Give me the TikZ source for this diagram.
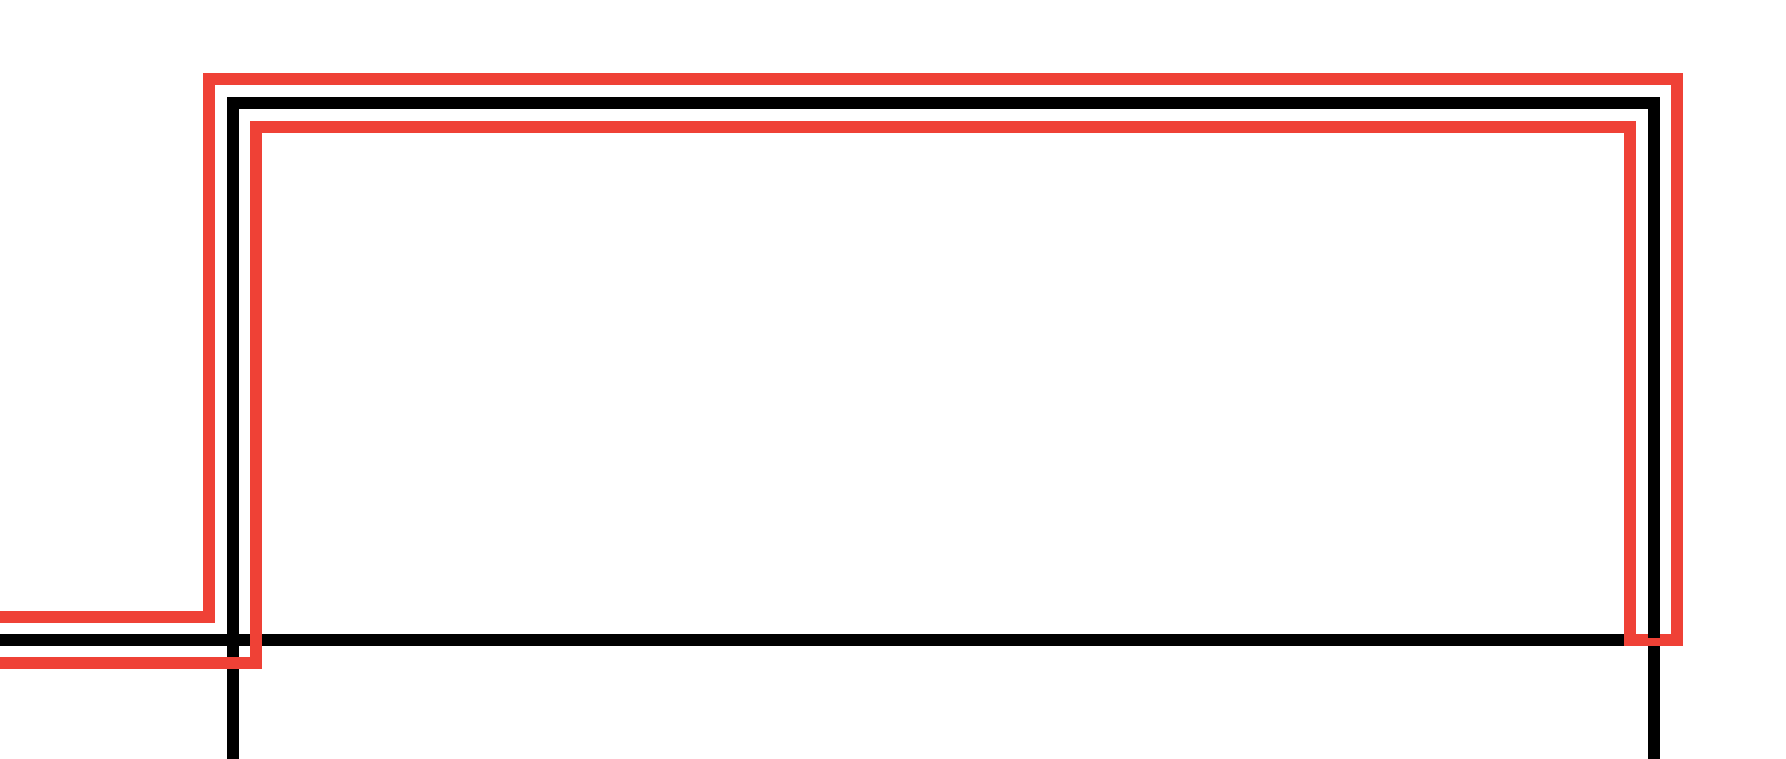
\documentclass[tikz,border=0pt]{standalone}
\definecolor{wirered}{RGB}{239,65,54}
\tikzset{
  blackwire/.style={draw=black,line width=0.12cm,line join=miter},
  redwire/.style={draw=wirered,line width=0.12cm,line join=miter}
}
\begin{document}
\begin{tikzpicture}[x=0.01cm,y=-0.01cm]
\useasboundingbox (0,0) rectangle (1786,758);
\clip (0,0) rectangle (1786,758);
% black wires
\draw[blackwire] (233,770) -- (233,103) -- (1654,103) -- (1654,770);
\draw[blackwire] (-10,640) -- (1624,640);
% red wire
\draw[redwire] (-10,616.5) -- (209,616.5) -- (209,79.5) -- (1676.7,79.5) -- (1676.7,639.5)
  -- (1630,639.5) -- (1630,126.7) -- (256,126.7) -- (256,663.3) -- (-10,663.3);
% black over red at right
\draw[blackwire] (1654,600) -- (1654,638);
\end{tikzpicture}
\end{document}
